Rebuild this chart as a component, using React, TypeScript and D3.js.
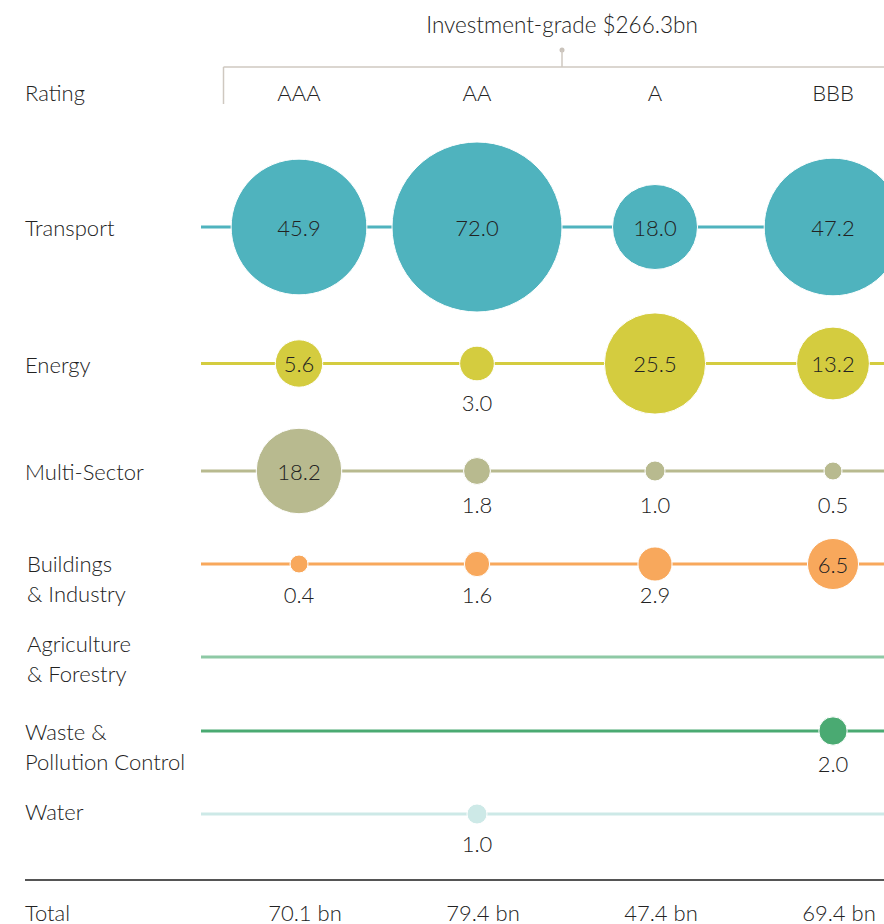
import React from "react";
import * as d3 from "d3";

// ---- data ----
const ratings = ["AAA", "AA", "A", "BBB"];
const sectors = [
  "Transport",
  "Energy",
  "Multi-Sector",
  "Buildings & Industry",
  "Agriculture & Forestry",
  "Waste & Pollution Control",
  "Water",
];
const sectorLabelLines = [
  ["Transport"],
  ["Energy"],
  ["Multi-Sector"],
  ["Buildings", "& Industry"],
  ["Agriculture", "& Forestry"],
  ["Waste &", "Pollution Control"],
  ["Water"],
];
const transport = [45.9, 72.0, 18.0, 47.2];
const energy = [5.6, 3.0, 25.5, 13.2];
const multiSector = [18.2, 1.8, 1.0, 0.5];
const buildings = [0.4, 1.6, 2.9, 6.5];
const agriculture: (number | null)[] = [null, null, null, null];
const waste: (number | null)[] = [null, null, null, 2.0];
const water: (number | null)[] = [null, 1.0, null, null];
const totals = [70.1, 79.4, 47.4, 69.4];
const headerTitle = "Investment-grade $266.3bn";

const seriesValues = [transport, energy, multiSector, buildings, agriculture, waste, water];

// ---- layout / style ----
const W = 884;
const H = 924;
const ROW_Y = [227, 363.5, 471, 564, 657, 731, 814];
const LABEL_Y = [227, 364, 471, 563, 643, 731, 811];
const LABEL_X = [25, 25, 25, 27, 27, 25, 25];
const BELOW_OFFSET = [32, 39, 33, 30, 32, 32, 29];
const COLORS = ["#4FB3BE", "#D4CC3F", "#B8BA8F", "#F8A85C", "#8EC9A5", "#4AAA72", "#CDE9E7"];
const FONT = "Lato, 'Open Sans', sans-serif";
const TEXT = "#222";
const FS = 22;

export default function App() {
  const x = d3.scalePoint<string>().domain(ratings).range([299, 833]);
  const r = d3.scaleSqrt().domain([0, 72]).range([0, 85]);
  const rad = (v: number) => Math.max(9, r(v));

  return (
    <div style={{ position: "absolute", left: 0, top: 0 }}>
      <svg width={W} height={H} style={{ display: "block", fontFamily: FONT, fontWeight: 300 }}>
        <rect width={W} height={H} fill="#fff" />
        {/* header bracket */}
        <text x={562} y={24} textAnchor="middle" dominantBaseline="central" fontSize={22.5} fill={TEXT}>
          {headerTitle}
        </text>
        <circle cx={562} cy={50} r={2.5} fill="#c9c2ba" />
        <line x1={562} x2={562} y1={50} y2={67} stroke="#cfc8c0" strokeWidth={1.5} />
        <line x1={223.5} x2={W} y1={67} y2={67} stroke="#cfc8c0" strokeWidth={1.5} />
        <line x1={223.5} x2={223.5} y1={67} y2={104} stroke="#cfc8c0" strokeWidth={1.5} />

        <text x={25} y={92} dominantBaseline="central" fontSize={FS} fill={TEXT}>Rating</text>
        {ratings.map((rt) => (
          <text key={rt} x={x(rt)} y={92} textAnchor="middle" dominantBaseline="central" fontSize={FS} fill={TEXT}>
            {rt}
          </text>
        ))}

        {sectors.map((s, i) => {
          const cy = ROW_Y[i];
          const vals = seriesValues[i];
          return (
            <g key={s}>
              {sectorLabelLines[i].map((ln, j) => (
                <text key={j} x={LABEL_X[i]} y={LABEL_Y[i] + j * 30.5} dominantBaseline="central" fontSize={FS} fill={TEXT}>
                  {ln}
                </text>
              ))}
              <line x1={201} x2={W} y1={cy} y2={cy} stroke={COLORS[i]} strokeWidth={3} />
              {vals.map((v, k) => {
                if (v == null) return null;
                const cx = x(ratings[k])!;
                const rr = rad(v);
                const inside = v >= 5;
                return (
                  <g key={k}>
                    <circle cx={cx} cy={cy} r={rr} fill={COLORS[i]} stroke="#fff" strokeWidth={1} />
                    <text
                      x={cx}
                      y={inside ? cy : cy + BELOW_OFFSET[i]}
                      textAnchor="middle"
                      dominantBaseline="central"
                      fontSize={FS}
                      fill={TEXT}
                    >
                      {v.toFixed(1)}
                    </text>
                  </g>
                );
              })}
            </g>
          );
        })}

        <line x1={25} x2={W} y1={880} y2={880} stroke="#555" strokeWidth={2} />
        <text x={25} y={912} dominantBaseline="central" fontSize={FS} fill={TEXT}>Total</text>
        {totals.map((t, k) => (
          <text key={k} x={x(ratings[k])! + 6} y={912} textAnchor="middle" dominantBaseline="central" fontSize={FS} fill={TEXT}>
            {`${t.toFixed(1)} bn`}
          </text>
        ))}
      </svg>
    </div>
  );
}
